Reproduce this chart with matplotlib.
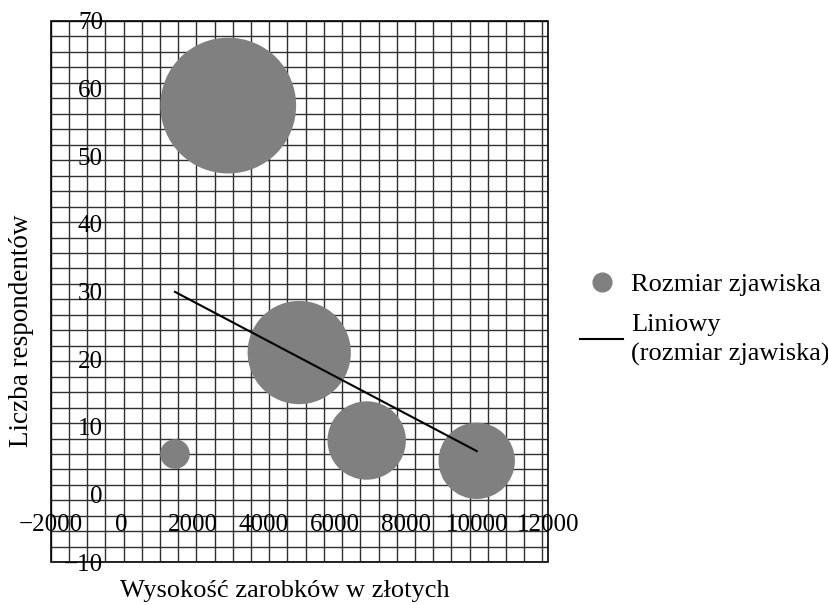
import numpy as np
import matplotlib.pyplot as plt
from matplotlib.lines import Line2D
from matplotlib.patches import Rectangle

plt.rcParams['font.family'] = ['Liberation Serif', 'DejaVu Serif']

# earnings (PLN), number of respondents, bubble size (phenomenon size)
earnings = [1500, 3000, 5000, 6900, 10000]
respondents = [6, 57.5, 21, 8, 5]
bubble_size = [2.2, 46.2, 26.7, 15.4, 14.6]

x_ticks = [-2000, 0, 2000, 4000, 6000, 8000, 10000, 12000]
y_ticks = [-10, 0, 10, 20, 30, 40, 50, 60, 70]

fig = plt.figure(figsize=(8.29, 6.05), dpi=100)
ax = fig.add_axes([0.0612, 0.0706, 0.5995, 0.8947])
ax.set_xlim(-2000, 12000)
ax.set_ylim(-10, 70)

# background grid pattern (not aligned to the data ticks)
gx = np.arange(-2000, 12000, 513)
gy = np.linspace(-10, 70, 36)
ax.vlines(gx, -10, 70, color='#303030', lw=1.0, zorder=0)
ax.hlines(gy, -2000, 12000, color='#303030', lw=1.0, zorder=0)

# bubbles
ax.scatter(earnings, respondents, s=np.array(bubble_size) * 207,
           color='#808080', edgecolors='none', zorder=2)

# linear trend line
a, b = np.polyfit(earnings, respondents, 1)
xt = np.array([min(earnings), max(earnings)])
ax.plot(xt, a * xt + b, color='black', lw=1.5, zorder=3)

# axes crossing at zero
for side in ['top', 'right']:
    ax.spines[side].set_visible(False)
ax.spines['left'].set_position(('data', 0))
ax.spines['bottom'].set_position(('data', 0))
ax.spines['left'].set_color('none')
ax.spines['bottom'].set_color('none')
ax.add_patch(Rectangle((0, 0), 1, 1, transform=ax.transAxes, fill=False,
                       edgecolor='black', lw=1.2, clip_on=False, zorder=4))

ax.set_xticks(x_ticks)
ax.set_yticks(y_ticks)
ax.tick_params(axis='x', length=0, pad=13.8, labelsize=18)
ax.tick_params(axis='y', length=0, pad=13.5, labelsize=18)
for lab in ax.get_xticklabels() + ax.get_yticklabels():
    lab.set_zorder(5)

fig.text(284.5 / 829, 1 - 591 / 605, 'Wysokość zarobków w złotych',
         ha='center', va='center', fontsize=19)
fig.text(22 / 829, 1 - 331 / 605, 'Liczba respondentów', rotation=90,
         ha='center', va='center', fontsize=19.5)

handles = [
    Line2D([], [], marker='o', color='#808080', markersize=13.5, lw=0),
    Line2D([], [], color='black', lw=1.5),
]
leg = fig.legend(handles, ['Rozmiar zjawiska', 'Liniowy\n(rozmiar zjawiska)'],
                 loc='upper left', bbox_to_anchor=(580 / 829, 1 - 273 / 605),
                 frameon=False, borderpad=0, borderaxespad=0, fontsize=19,
                 handlelength=1.63, handletextpad=0.3, labelspacing=0.68)
for t in leg.get_texts():
    t.set_linespacing(1.35)

fig.savefig('out.png', dpi=100)
